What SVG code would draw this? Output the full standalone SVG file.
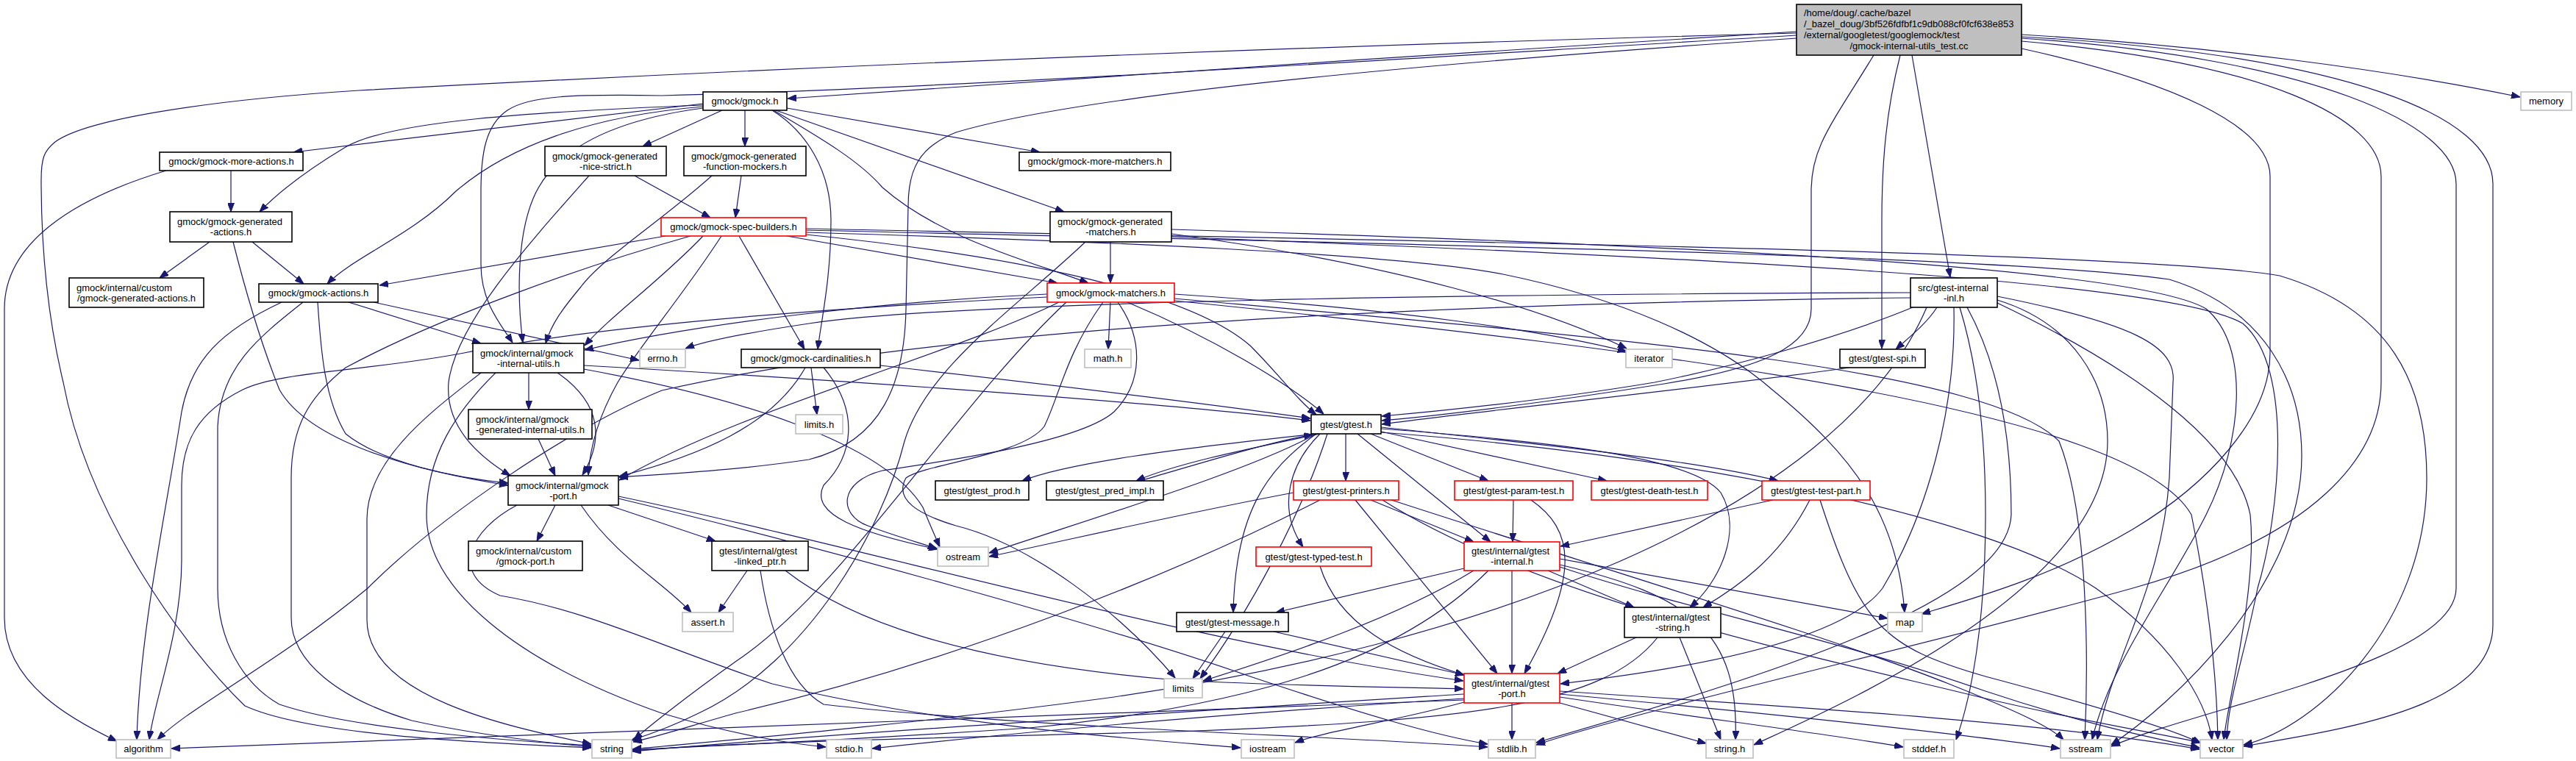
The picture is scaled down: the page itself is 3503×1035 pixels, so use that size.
<svg xmlns="http://www.w3.org/2000/svg" width="3503" height="1035" viewBox="0 0 3503 1035">
<defs>
<marker id="a" viewBox="0 0 12 9" refX="12" refY="4.5" markerWidth="12" markerHeight="9" markerUnits="userSpaceOnUse" orient="auto">
<path d="M0,0 L12,4.5 L0,9 z" fill="#191970" stroke="#191970" stroke-width="1"/>
</marker>
</defs>
<style>
.e path{fill:none;stroke:#191970;stroke-width:1.2;marker-end:url(#a)}
.k rect{fill:#ffffff;stroke:#000000;stroke-width:1.6}
.r rect{fill:#ffffff;stroke:#ff0000;stroke-width:1.6}
.g rect{fill:#ffffff;stroke:#bfbfbf;stroke-width:1.6}
.root rect{fill:#bfbfbf;stroke:#000000;stroke-width:1.6}
text{font-family:"Liberation Sans",Arial,sans-serif;font-size:13px;fill:#000000}
.m{text-anchor:middle}
.s{text-anchor:start}
</style>
<rect width="3503" height="1035" fill="#ffffff"/>
<g id="edges" class="e">
<path d="M2443,43 C2000,70 1500,105 1071,134"/>
<path d="M2443,45 C1800,62 1100,90 488,123 C300,135 120,160 75,193 C60,205 56,215 56,245 C56,320 62,420 86,520 C120,700 250,880 333,960 C420,1000 650,1010 804,1017"/>
<path d="M2443,48 C1900,80 1300,120 900,130 C780,128 720,130 690,150 C660,170 654,210 654,260 L654,360 C654,410 680,440 697,466"/>
<path d="M2443,52 C2100,75 1500,120 1300,180 C1250,200 1235,230 1235,280 L1232,420 C1230,520 1200,600 1100,625 C1000,640 900,645 842,649"/>
<path d="M2548,75 C2490,170 2463,200 2463,260 L2463,420 C2463,470 2400,500 2263,522 C2100,548 1950,566 1879,572"/>
<path d="M2584,75 C2565,150 2559,220 2559,300 L2559,474"/>
<path d="M2600,75 L2652,377"/>
<path d="M2749,47 C3000,62 3250,95 3427,132"/>
<path d="M2749,66 C2950,110 3087,170 3087,240 L3087,480 C3087,570 3000,660 2900,720 C2790,785 2680,815 2613,835"/>
<path d="M2749,56 C3080,85 3238,160 3238,240 L3238,520 C3238,620 3150,730 2900,800 C2650,870 2250,960 2089,1013"/>
<path d="M2749,52 C3150,80 3340,170 3340,250 L3340,800 C3340,900 3000,960 2871,1015"/>
<path d="M2749,50 C3200,75 3390,160 3390,250 L3390,850 C3390,960 3200,990 3051,1015"/>
<path d="M956,141 C750,165 580,185 399,207"/>
<path d="M956,143 C720,152 530,165 470,200 C420,230 380,260 353,288"/>
<path d="M956,145 C800,158 690,200 620,260 C560,320 480,350 445,386"/>
<path d="M956,147 C820,165 750,210 725,270 C700,330 705,420 711,466"/>
<path d="M982,150 L874,199"/>
<path d="M1013,150 L1013,199"/>
<path d="M1050,150 C1095,178 1130,230 1130,300 C1130,380 1116,440 1112,475"/>
<path d="M1052,150 C1120,190 1170,220 1200,255 C1280,325 1400,355 1480,385"/>
<path d="M1055,150 L1447,288"/>
<path d="M1070,147 L1414,207"/>
<path d="M314,232 L314,288"/>
<path d="M226,232 C100,270 6,330 6,420 L6,840 C6,930 100,980 159,1008"/>
<path d="M285,329 L217,378"/>
<path d="M343,329 L413,386"/>
<path d="M317,329 C340,420 360,480 380,530 C420,600 560,640 691,660"/>
<path d="M474,411 L654,467"/>
<path d="M508,411 L869,490"/>
<path d="M383,411 C300,450 260,490 247,560 C225,700 190,860 186,1006"/>
<path d="M412,411 C350,460 300,500 296,580 L296,800 C296,870 330,930 380,958 C480,992 700,1008 804,1014"/>
<path d="M432,411 C436,470 440,540 470,590 C520,630 620,650 691,657"/>
<path d="M863,239 L966,296"/>
<path d="M801,239 C720,330 620,440 610,520 C605,580 650,620 694,647"/>
<path d="M1008,239 L1000,296"/>
<path d="M968,239 C900,300 820,350 790,390 C765,420 750,440 742,467"/>
<path d="M905,321 L516,388"/>
<path d="M956,321 C900,380 830,430 795,470"/>
<path d="M939,321 C800,360 600,430 470,500 C420,540 396,580 396,650 L396,840 C396,900 460,950 560,980 C650,1000 760,1012 804,1016"/>
<path d="M981,321 C930,400 870,470 840,520 C812,570 802,610 800,646"/>
<path d="M1005,321 L1094,475"/>
<path d="M1070,321 L1438,385"/>
<path d="M1096,319 C1400,350 1620,400 1700,470 C1740,510 1765,545 1790,564"/>
<path d="M1096,316 C1500,328 1900,345 2044,373 C2200,405 2330,460 2410,530 C2520,620 2580,700 2590,833"/>
<path d="M1096,313 C1800,330 2700,345 2950,380 C3080,420 3130,520 3130,620 C3130,800 2950,960 2871,1013"/>
<path d="M1096,311 C1800,326 2900,340 3100,375 C3250,420 3300,520 3300,650 C3300,850 3150,990 3051,1013"/>
<path d="M1510,329 L1510,385"/>
<path d="M1593,318 C1900,360 2100,420 2212,474"/>
<path d="M1476,329 C1380,420 1260,500 1230,600 C1200,720 1100,900 950,970 C910,990 880,1000 858,1007"/>
<path d="M1593,312 C2200,330 2900,360 3000,420 C3060,470 3050,600 3000,700 C2950,800 2870,900 2845,1006"/>
<path d="M1593,322 C2300,350 2950,380 3050,440 C3120,500 3100,700 3070,800 C3050,900 3030,950 3028,1006"/>
<path d="M1510,411 L1507,475"/>
<path d="M1424,404 C1100,420 800,445 631,480 C500,505 380,505 330,530 C270,560 247,600 247,660 L247,760 C247,860 210,950 203,1006"/>
<path d="M1424,400 C1200,410 950,440 795,476"/>
<path d="M1597,400 C1900,420 2100,450 2212,478"/>
<path d="M1500,411 C1450,480 1440,540 1420,580 C1390,620 1260,630 1232,650 C1215,680 1250,700 1300,715 C1400,740 1520,830 1598,922"/>
<path d="M1520,411 C1555,460 1555,520 1515,560 C1470,600 1300,625 1200,640 C1140,655 1140,700 1180,715 C1220,730 1250,738 1274,746"/>
<path d="M1450,411 C1300,550 1150,800 1000,900 C930,950 880,990 862,1006"/>
<path d="M1533,411 C1650,460 1750,520 1800,563"/>
<path d="M1440,411 C1300,480 1000,560 842,653"/>
<path d="M1597,406 C2200,460 2700,500 2800,600 C2840,700 2840,900 2835,1006"/>
<path d="M1597,409 C2300,480 2900,560 2980,700 C3010,850 3015,950 3016,1006"/>
<path d="M719,507 L719,557"/>
<path d="M758,507 C820,550 820,600 792,646"/>
<path d="M674,507 C620,560 580,620 580,700 C580,800 700,900 900,970 C1000,1000 1080,1012 1123,1016"/>
<path d="M794,502 C1000,540 1200,600 1255,690 C1265,715 1272,730 1278,744"/>
<path d="M654,507 C600,550 499,620 499,706 L499,843 C499,950 700,990 804,1012"/>
<path d="M794,497 C1200,520 1600,550 1782,572"/>
<path d="M732,597 L755,647"/>
<path d="M1103,500 L1111,564"/>
<path d="M1120,500 C1170,560 1160,620 1120,660 C1100,700 1170,725 1275,747"/>
<path d="M1095,500 C1050,580 950,620 842,648"/>
<path d="M1197,497 C1400,520 1650,550 1782,569"/>
<path d="M2515,500 C2300,530 2000,560 1879,577"/>
<path d="M2634,418 C2620,440 2595,460 2578,475"/>
<path d="M2598,398 C2000,400 1300,410 1100,440 C1000,455 955,465 932,474"/>
<path d="M2598,405 C2000,412 1300,440 900,531 C780,580 600,700 500,800 C380,900 260,960 214,1006"/>
<path d="M2601,418 C2500,460 2350,500 2250,520 C2100,545 1950,560 1879,566"/>
<path d="M2657,418 C2660,560 2620,700 2560,800 C2500,880 2250,915 2122,930"/>
<path d="M2665,418 C2690,500 2700,600 2700,700 C2700,850 2680,950 2660,1006"/>
<path d="M2675,418 C2720,500 2735,600 2735,700 C2730,820 2400,920 2089,1010"/>
<path d="M2716,403 C2900,440 2960,470 2955,520 L2950,650 C2940,800 2870,900 2852,1006"/>
<path d="M2716,408 C2820,440 2866,520 2866,600 C2866,800 2500,960 2385,1013"/>
<path d="M2620,418 C2500,700 2000,880 1500,950 C1200,990 950,1010 860,1019"/>
<path d="M2716,412 C2900,500 3040,600 3060,700 C3070,800 3030,950 3024,1006"/>
<path d="M1830,590 L1830,654"/>
<path d="M1864,590 L2024,654"/>
<path d="M1878,587 L2185,654"/>
<path d="M1878,581 C2100,605 2300,625 2418,654"/>
<path d="M1846,590 L2027,737"/>
<path d="M1878,583 C2100,600 2300,620 2340,670 C2370,720 2340,790 2298,826"/>
<path d="M1795,590 C1755,630 1735,690 1772,744"/>
<path d="M1790,590 C1600,610 1450,630 1390,654"/>
<path d="M1795,590 C1700,610 1600,630 1545,654"/>
<path d="M1550,654 C1640,628 1720,603 1785,591"/>
<path d="M1790,590 C1720,640 1680,700 1677,833"/>
<path d="M1790,590 C1700,640 1500,700 1345,752"/>
<path d="M1805,590 C1770,700 1700,830 1632,923"/>
<path d="M1878,588 C2300,620 2700,700 2850,800 C2950,870 3000,950 3008,1006"/>
<path d="M1759,670 C1600,700 1450,735 1345,757"/>
<path d="M1795,680 C1600,780 1300,900 1000,970 C930,990 890,1003 861,1009"/>
<path d="M1843,680 L2036,916"/>
<path d="M1864,680 L2004,737"/>
<path d="M1892,680 C2200,780 2500,870 2650,930 C2750,970 2790,990 2806,1006"/>
<path d="M1880,680 C2100,820 2500,900 2700,950 C2850,985 2950,1000 2992,1010"/>
<path d="M2058,680 L2057,737"/>
<path d="M2082,680 C2140,720 2150,780 2073,916"/>
<path d="M2411,680 L2122,743"/>
<path d="M2461,680 C2420,760 2360,800 2316,826"/>
<path d="M2475,680 C2530,850 2560,880 2700,920 C2850,960 2950,990 2993,1011"/>
<path d="M1795,770 C1820,850 1900,890 1991,918"/>
<path d="M2056,776 L2056,916"/>
<path d="M1991,773 L1735,833"/>
<path d="M2105,776 L2222,826"/>
<path d="M2121,760 L2567,841"/>
<path d="M2004,776 C1900,840 1750,890 1636,926"/>
<path d="M2024,776 C1900,900 1700,960 1400,990 C1100,1010 950,1015 860,1020"/>
<path d="M2121,768 C2300,810 2365,860 2360,1006"/>
<path d="M2121,771 C2300,830 2500,870 2700,940 C2850,990 2950,1008 2991,1017"/>
<path d="M1666,859 L1622,923"/>
<path d="M1732,859 L1991,918"/>
<path d="M2225,867 L2118,916"/>
<path d="M2284,867 L2340,1006"/>
<path d="M2254,867 C2180,960 2000,980 1600,995 C1200,1005 950,1012 860,1021"/>
<path d="M2056,956 L2056,1006"/>
<path d="M2121,956 L2320,1011"/>
<path d="M2121,948 C2300,975 2500,1000 2588,1016"/>
<path d="M2121,944 C2400,970 2650,995 2801,1018"/>
<path d="M2121,940 C2500,965 2800,985 2991,1019"/>
<path d="M1991,944 C1500,975 1100,1000 860,1022"/>
<path d="M1991,950 C1600,975 1350,1000 1186,1018"/>
<path d="M1991,955 C1900,980 1800,995 1761,1010"/>
<path d="M1991,952 C1500,975 900,995 233,1018"/>
<path d="M1016,776 L977,833"/>
<path d="M1034,776 C1045,850 1070,930 1120,958 C1400,990 1800,1000 2023,1016"/>
<path d="M1068,776 C1150,840 1300,900 1600,925 C1800,935 1950,935 1990,937"/>
<path d="M755,687 L730,736"/>
<path d="M827,687 L973,736"/>
<path d="M790,687 C840,760 900,790 940,833"/>
<path d="M703,687 C640,720 610,780 680,810 C800,830 900,880 1050,930 C1300,990 1550,1005 1687,1017"/>
<path d="M841,678 C1100,740 1500,850 1700,920 C1850,970 1950,1000 2023,1012"/>
<path d="M841,675 C1200,750 1600,870 1990,926"/>
</g>
<g id="root" class="root"><rect x="2443" y="6" width="306" height="69"/>
<text class="s" x="2453" y="21.5">/home/doug/.cache/bazel</text>
<text class="s" x="2453" y="36.5">/_bazel_doug/3bf526fdfbf1c9db088cf0fcf638e853</text>
<text class="s" x="2453" y="51.5">/external/googletest/googlemock/test</text>
<text class="m" x="2596" y="66.5">/gmock-internal-utils_test.cc</text></g>
<g id="gmock_h" class="k"><rect x="956" y="125" width="114" height="25"/><text class="m" x="1013" y="142">gmock/gmock.h</text></g>
<g id="memory" class="g"><rect x="3428" y="125" width="69" height="25"/><text class="m" x="3462.5" y="142">memory</text></g>
<g id="more_actions" class="k"><rect x="217" y="207" width="195" height="25"/><text class="m" x="314.5" y="224">gmock/gmock-more-actions.h</text></g>
<g id="nice_strict" class="k"><rect x="741" y="199" width="165" height="40"/><text class="s" x="751" y="216.5">gmock/gmock-generated</text><text class="m" x="823.5" y="230.5">-nice-strict.h</text></g>
<g id="function_mockers" class="k"><rect x="930" y="199" width="166" height="40"/><text class="s" x="940" y="216.5">gmock/gmock-generated</text><text class="m" x="1013" y="230.5">-function-mockers.h</text></g>
<g id="more_matchers" class="k"><rect x="1386" y="207" width="206" height="25"/><text class="m" x="1489" y="224">gmock/gmock-more-matchers.h</text></g>
<g id="generated_actions" class="k"><rect x="231" y="288" width="166" height="41"/><text class="s" x="241" y="305.5">gmock/gmock-generated</text><text class="m" x="314" y="319.5">-actions.h</text></g>
<g id="spec_builders" class="r"><rect x="899" y="296" width="197" height="25"/><text class="m" x="997.5" y="313">gmock/gmock-spec-builders.h</text></g>
<g id="generated_matchers" class="k"><rect x="1428" y="288" width="165" height="41"/><text class="s" x="1438" y="305.5">gmock/gmock-generated</text><text class="m" x="1510.5" y="319.5">-matchers.h</text></g>
<g id="custom_generated_actions" class="k"><rect x="94" y="378" width="183" height="40"/><text class="s" x="104" y="395.5">gmock/internal/custom</text><text class="m" x="185.5" y="409.5">/gmock-generated-actions.h</text></g>
<g id="gmock_actions" class="k"><rect x="352" y="386" width="162" height="25"/><text class="m" x="433" y="403">gmock/gmock-actions.h</text></g>
<g id="gmock_matchers" class="r"><rect x="1424" y="385" width="173" height="26"/><text class="m" x="1510.5" y="402.5">gmock/gmock-matchers.h</text></g>
<g id="gtest_internal_inl" class="k"><rect x="2598" y="378" width="118" height="40"/><text class="s" x="2608" y="395.5">src/gtest-internal</text><text class="m" x="2657" y="409.5">-inl.h</text></g>
<g id="internal_utils" class="k"><rect x="643" y="467" width="151" height="40"/><text class="s" x="653" y="484.5">gmock/internal/gmock</text><text class="m" x="718.5" y="498.5">-internal-utils.h</text></g>
<g id="errno_h" class="g"><rect x="870" y="475" width="62" height="25"/><text class="m" x="901" y="492">errno.h</text></g>
<g id="cardinalities" class="k"><rect x="1008" y="475" width="189" height="25"/><text class="m" x="1102.5" y="492">gmock/gmock-cardinalities.h</text></g>
<g id="math_h" class="g"><rect x="1475" y="475" width="63" height="25"/><text class="m" x="1506.5" y="492">math.h</text></g>
<g id="iterator" class="g"><rect x="2211" y="475" width="63" height="25"/><text class="m" x="2242.5" y="492">iterator</text></g>
<g id="gtest_spi" class="k"><rect x="2502" y="475" width="116" height="25"/><text class="m" x="2560" y="492">gtest/gtest-spi.h</text></g>
<g id="generated_internal_utils" class="k"><rect x="637" y="557" width="168" height="40"/><text class="s" x="647" y="574.5">gmock/internal/gmock</text><text class="m" x="721" y="588.5">-generated-internal-utils.h</text></g>
<g id="limits_h" class="g"><rect x="1082" y="564" width="64" height="26"/><text class="m" x="1114" y="581.5">limits.h</text></g>
<g id="gtest_h" class="k"><rect x="1783" y="564" width="95" height="26"/><text class="m" x="1830.5" y="581.5">gtest/gtest.h</text></g>
<g id="gmock_port" class="k"><rect x="691" y="647" width="150" height="40"/><text class="s" x="701" y="664.5">gmock/internal/gmock</text><text class="m" x="766" y="678.5">-port.h</text></g>
<g id="gtest_prod" class="k"><rect x="1272" y="654" width="127" height="26"/><text class="m" x="1335.5" y="671.5">gtest/gtest_prod.h</text></g>
<g id="gtest_pred_impl" class="k"><rect x="1423" y="654" width="159" height="26"/><text class="m" x="1502.5" y="671.5">gtest/gtest_pred_impl.h</text></g>
<g id="gtest_printers" class="r"><rect x="1759" y="654" width="143" height="26"/><text class="m" x="1830.5" y="671.5">gtest/gtest-printers.h</text></g>
<g id="gtest_param_test" class="r"><rect x="1978" y="654" width="161" height="26"/><text class="m" x="2058.5" y="671.5">gtest/gtest-param-test.h</text></g>
<g id="gtest_death_test" class="r"><rect x="2164" y="654" width="158" height="26"/><text class="m" x="2243" y="671.5">gtest/gtest-death-test.h</text></g>
<g id="gtest_test_part" class="r"><rect x="2396" y="654" width="147" height="26"/><text class="m" x="2469.5" y="671.5">gtest/gtest-test-part.h</text></g>
<g id="custom_gmock_port" class="k"><rect x="637" y="736" width="155" height="40"/><text class="s" x="647" y="753.5">gmock/internal/custom</text><text class="m" x="714.5" y="767.5">/gmock-port.h</text></g>
<g id="linked_ptr" class="k"><rect x="968" y="736" width="131" height="40"/><text class="s" x="978" y="753.5">gtest/internal/gtest</text><text class="m" x="1033.5" y="767.5">-linked_ptr.h</text></g>
<g id="ostream" class="g"><rect x="1275" y="744" width="69" height="26"/><text class="m" x="1309.5" y="761.5">ostream</text></g>
<g id="gtest_typed_test" class="r"><rect x="1708" y="744" width="157" height="26"/><text class="m" x="1786.5" y="761.5">gtest/gtest-typed-test.h</text></g>
<g id="gtest_internal" class="r"><rect x="1991" y="737" width="130" height="39"/><text class="s" x="2001" y="753.5">gtest/internal/gtest</text><text class="m" x="2056" y="767.5">-internal.h</text></g>
<g id="assert_h" class="g"><rect x="928" y="833" width="69" height="26"/><text class="m" x="962.5" y="850.5">assert.h</text></g>
<g id="gtest_message" class="k"><rect x="1600" y="833" width="152" height="26"/><text class="m" x="1676" y="850.5">gtest/gtest-message.h</text></g>
<g id="gtest_string" class="k"><rect x="2209" y="826" width="131" height="41"/><text class="s" x="2219" y="843.5">gtest/internal/gtest</text><text class="m" x="2274.5" y="857.5">-string.h</text></g>
<g id="map" class="g"><rect x="2567" y="833" width="47" height="26"/><text class="m" x="2590.5" y="850.5">map</text></g>
<g id="limits" class="g"><rect x="1583" y="923" width="52" height="26"/><text class="m" x="1609" y="940.5">limits</text></g>
<g id="gtest_port" class="r"><rect x="1991" y="916" width="130" height="40"/><text class="s" x="2001" y="933.5">gtest/internal/gtest</text><text class="m" x="2056" y="947.5">-port.h</text></g>
<g id="algorithm" class="g"><rect x="158" y="1006" width="74" height="25"/><text class="m" x="195" y="1023">algorithm</text></g>
<g id="string" class="g"><rect x="805" y="1006" width="54" height="25"/><text class="m" x="832" y="1023">string</text></g>
<g id="stdio_h" class="g"><rect x="1124" y="1006" width="61" height="25"/><text class="m" x="1154.5" y="1023">stdio.h</text></g>
<g id="iostream" class="g"><rect x="1688" y="1006" width="72" height="25"/><text class="m" x="1724" y="1023">iostream</text></g>
<g id="stdlib_h" class="g"><rect x="2024" y="1006" width="64" height="25"/><text class="m" x="2056" y="1023">stdlib.h</text></g>
<g id="string_h" class="g"><rect x="2320" y="1006" width="64" height="25"/><text class="m" x="2352" y="1023">string.h</text></g>
<g id="stddef_h" class="g"><rect x="2589" y="1006" width="68" height="25"/><text class="m" x="2623" y="1023">stddef.h</text></g>
<g id="sstream" class="g"><rect x="2802" y="1006" width="68" height="25"/><text class="m" x="2836" y="1023">sstream</text></g>
<g id="vector" class="g"><rect x="2992" y="1006" width="58" height="25"/><text class="m" x="3021" y="1023">vector</text></g>
</svg>
